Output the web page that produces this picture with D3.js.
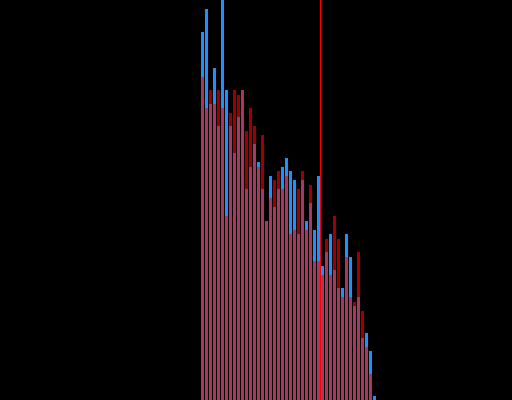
<!DOCTYPE html>
<html>
<head>
<meta charset="utf-8">
<script src="https://cdn.jsdelivr.net/npm/d3@7"></script>
<style>
  html, body { margin: 0; padding: 0; background: #000; }
  svg { display: block; }
</style>
</head>
<body>
<script>
// Data
const bins = d3.range(44);
const seriesA = [368, 391, 296, 332, 274, 410, 310, 274, 247, 283, 310, 211, 233, 256, 238, 211, 179, 224, 193, 211, 233, 242, 229, 220, 166, 220, 179, 197, 170, 224, 134, 148, 166, 130, 112, 112, 166, 143, 94, 103, 62, 67, 49, 4];
const seriesB = [323, 292, 310, 296, 310, 292, 184, 287, 310, 305, 310, 269, 292, 274, 233, 265, 179, 202, 220, 229, 211, 224, 166, 170, 211, 229, 170, 215, 139, 139, 125, 161, 125, 184, 161, 103, 143, 103, 98, 148, 89, 53, 26, 0];
const markerValue = 29.875;

const W = 512, H = 400;
const svg = d3.select("body").append("svg").attr("width", W).attr("height", H);
svg.append("rect").attr("width", W).attr("height", H).attr("fill", "#000");

const x = d3.scaleLinear().domain([0, 44]).range([201, 377]);
const y = d3.scaleLinear().domain([0, 400]).range([H, 0]);
const bw = x(1) - x(0) - 1;

svg.append("g").selectAll("rect").data(bins).join("rect")
  .attr("x", d => x(d))
  .attr("width", bw)
  .attr("y", d => y(seriesA[d]))
  .attr("height", d => H - y(seriesA[d]))
  .attr("fill", "#1e90ff");

svg.append("g").selectAll("rect").data(bins).join("rect")
  .attr("x", d => x(d))
  .attr("width", bw)
  .attr("y", d => y(seriesB[d]))
  .attr("height", d => H - y(seriesB[d]))
  .attr("fill", "#ff0000")
  .attr("fill-opacity", 0.62);

svg.append("line")
  .attr("x1", x(markerValue)).attr("x2", x(markerValue))
  .attr("y1", 0).attr("y2", H)
  .attr("stroke", "#ff0000").attr("stroke-width", 1);
</script>
</body>
</html>
